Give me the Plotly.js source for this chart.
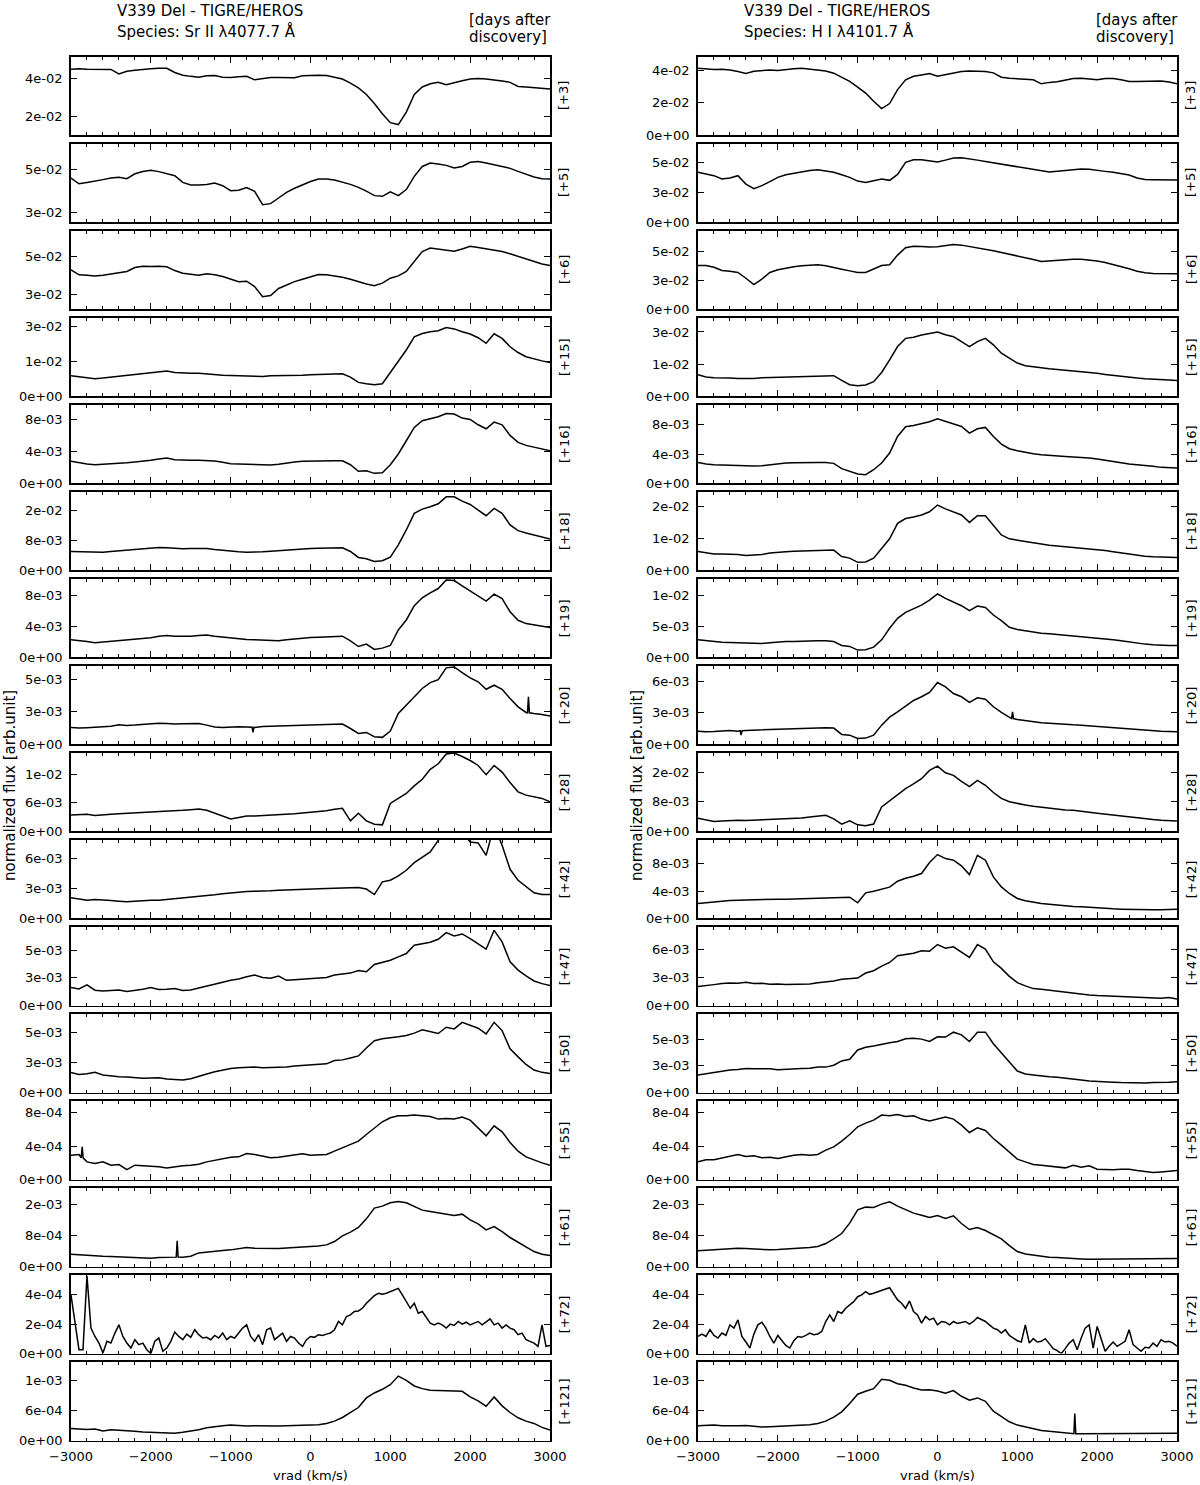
<!DOCTYPE html>
<html>
<head>
<meta charset="utf-8">
<script src="https://cdn.plot.ly/plotly-3.0.1.min.js"></script>
<style>body{margin:0;background:#fff}</style>
</head>
<body>
<div id="chart" style="width:1200px;height:1485px"></div>
<script>
// velocity grids (km/s)
const vrad = [-3000,-2900,-2800,-2700,-2600,-2500,-2400,-2300,-2200,-2100,
  -2000,-1900,-1800,-1700,-1600,-1500,-1400,-1300,-1200,-1100,
  -1000,-900,-800,-700,-600,-500,-400,-300,-200,-100,
  0,100,200,300,400,500,600,700,800,900,
  1000,1100,1200,1300,1400,1500,1600,1700,1800,1900,
  2000,2100,2200,2300,2400,2500,2600,2700,2800,2900,3000];
const vradFine = [-3000,-2950,-2900,-2850,-2800,-2750,-2700,-2650,-2600,-2550,
  -2500,-2450,-2400,-2350,-2300,-2250,-2200,-2150,-2100,-2050,
  -2000,-1950,-1900,-1850,-1800,-1750,-1700,-1650,-1600,-1550,
  -1500,-1450,-1400,-1350,-1300,-1250,-1200,-1150,-1100,-1050,
  -1000,-950,-900,-850,-800,-750,-700,-650,-600,-550,
  -500,-450,-400,-350,-300,-250,-200,-150,-100,-50,
  0,50,100,150,200,250,300,350,400,450,
  500,550,600,650,700,750,800,850,900,950,
  1000,1050,1100,1150,1200,1250,1300,1350,1400,1450,
  1500,1550,1600,1650,1700,1750,1800,1850,1900,1950,
  2000,2050,2100,2150,2200,2250,2300,2350,2400,2450,
  2500,2550,2600,2650,2700,2750,2800,2850,2900,2950,3000];

const days = ["+3","+5","+6","+15","+16","+18","+19","+20","+28","+42","+47","+50","+55","+61","+72","+121"];

// ---- Sr II 4077.7 (left column), flux in units of the tick exponent ----
const sr3 = [4.46,4.48,4.46,4.46,4.43,4.45,4.22,4.36,4.41,4.43,
  4.48,4.51,4.51,4.29,4.15,4.09,4.05,4.12,4.14,4.05,
  4.03,4.07,4.09,3.91,3.98,4.03,4.03,4.03,4.02,4.12,
  4.14,4.15,4.14,4.05,3.95,3.74,3.49,3.15,2.68,2.15,
  1.69,1.59,2.24,3.15,3.54,3.71,3.78,3.66,3.74,3.86,
  3.95,3.98,3.95,3.91,3.85,3.78,3.57,3.54,3.50,3.47,3.44];
const sr5 = [4.58,4.32,4.38,4.46,4.51,4.58,4.62,4.55,4.78,4.89,
  4.94,4.88,4.80,4.69,4.38,4.26,4.26,4.28,4.35,4.23,
  4.00,4.02,4.14,3.97,3.35,3.40,3.66,3.92,4.11,4.28,
  4.42,4.54,4.54,4.49,4.40,4.29,4.15,3.98,3.77,3.74,
  3.95,3.77,4.05,4.66,5.12,5.28,5.23,5.17,5.05,5.12,
  5.31,5.35,5.28,5.20,5.12,5.03,4.89,4.75,4.63,4.55,4.54];
const sr6 = [4.30,4.04,4.02,3.98,4.02,4.09,4.12,4.21,4.42,4.49,
  4.47,4.49,4.46,4.26,4.12,4.05,4.02,4.09,4.04,3.95,
  3.81,3.68,3.70,3.42,2.89,2.95,3.32,3.51,3.68,3.81,
  3.95,4.05,4.04,3.98,3.91,3.81,3.68,3.56,3.47,3.60,
  3.86,3.98,4.21,4.74,5.26,5.44,5.39,5.32,5.28,5.39,
  5.53,5.47,5.39,5.35,5.26,5.14,5.00,4.86,4.74,4.61,4.53];
const sr15 = [0.89,0.84,0.80,0.76,0.79,0.83,0.86,0.89,0.93,0.97,
  1.00,1.06,1.09,1.03,1.00,0.99,1.00,0.96,0.94,0.91,
  0.90,0.89,0.87,0.86,0.86,0.89,0.89,0.89,0.90,0.91,
  0.93,0.94,0.96,0.97,0.97,0.83,0.60,0.54,0.50,0.54,
  1.03,1.50,2.00,2.57,2.71,2.79,2.83,2.97,2.91,2.79,
  2.69,2.53,2.29,2.70,2.50,2.14,1.89,1.71,1.61,1.53,1.46];
const sr16 = [2.75,2.54,2.42,2.33,2.38,2.42,2.50,2.58,2.67,2.75,
  2.88,3.04,3.17,2.96,2.88,2.88,2.88,2.83,2.79,2.63,
  2.46,2.42,2.38,2.29,2.25,2.29,2.38,2.54,2.67,2.75,
  2.79,2.79,2.83,2.83,2.83,2.33,1.50,1.58,1.25,1.33,
  2.33,3.67,5.33,7.00,7.83,8.08,8.33,8.75,8.67,8.17,
  8.00,7.33,6.83,7.67,7.33,6.00,5.13,4.75,4.50,4.29,4.08];
const sr18 = [5.07,4.98,4.89,4.80,4.89,5.07,5.24,5.42,5.69,5.78,
  5.96,6.13,6.04,5.87,5.78,5.87,5.96,5.87,5.60,5.33,
  5.16,4.98,4.89,4.89,4.98,5.16,5.33,5.51,5.69,5.78,
  5.87,5.96,6.04,6.04,6.04,5.07,3.47,3.11,2.40,2.58,
  3.56,6.84,10.84,15.29,16.44,17.07,17.87,19.73,19.73,18.58,
  17.69,16.18,14.67,16.62,15.29,12.18,10.67,10.04,9.51,8.98,8.44];
const sr19 = [2.26,2.17,2.04,1.87,1.96,2.04,2.09,2.17,2.30,2.43,
  2.51,2.72,2.81,2.72,2.68,2.72,2.81,2.89,2.72,2.60,
  2.47,2.38,2.30,2.26,2.21,2.21,2.13,2.26,2.38,2.47,
  2.55,2.60,2.64,2.68,2.72,2.13,1.40,1.70,1.02,1.19,
  1.53,3.53,4.81,6.64,7.66,8.30,8.85,9.95,9.87,9.19,
  8.51,7.91,7.23,8.13,7.57,5.87,4.77,4.34,4.17,4.00,3.83];
const sr20 = [1.30,1.25,1.28,1.33,1.35,1.40,1.51,1.45,1.48,1.53,
  1.56,1.63,1.61,1.56,1.58,1.58,1.61,1.48,1.33,1.30,
  1.33,1.35,1.33,1.30,1.38,1.40,1.43,1.45,1.48,1.48,
  1.51,1.53,1.53,1.56,1.56,1.22,0.84,0.92,0.59,0.54,
  1.02,2.37,3.01,3.65,4.29,4.74,4.97,5.87,5.94,5.51,
  5.10,4.80,4.23,4.54,4.23,3.52,2.88,2.45,2.37,2.30,2.17];
const sr28 = [3.45,3.59,3.59,3.31,3.38,3.59,3.72,3.79,3.86,4.00,
  4.07,4.14,4.21,4.28,4.41,4.55,4.69,4.41,3.79,3.10,
  2.62,2.90,3.24,3.24,3.31,3.38,3.52,3.59,3.72,3.86,
  4.00,4.14,4.34,4.62,4.83,2.21,3.79,2.21,1.52,1.38,
  5.86,6.90,7.93,9.52,10.90,12.97,14.14,16.20,16.40,15.66,
  14.83,13.79,11.86,13.79,12.41,10.21,8.28,7.59,7.24,6.90,6.21];
const sr42 = [2.07,1.93,1.83,1.90,1.87,1.80,1.73,1.67,1.73,1.80,
  1.83,1.83,1.90,2.03,2.07,2.13,2.17,2.27,2.37,2.47,
  2.57,2.67,2.70,2.73,2.73,2.77,2.83,2.87,2.90,2.90,
  2.93,2.97,3.00,3.03,3.07,3.10,3.10,2.95,2.40,3.67,
  3.83,4.27,4.83,5.60,6.17,6.67,7.83,8.83,9.17,8.67,
  7.67,7.57,6.33,9.33,7.33,4.93,3.83,3.17,2.57,2.40,2.40];
const sr47 = [1.62,1.50,1.86,1.38,1.32,1.35,1.41,1.26,1.35,1.47,
  1.62,1.44,1.47,1.53,1.35,1.41,1.59,1.74,1.89,2.10,
  2.28,2.40,2.60,2.75,2.54,2.46,2.66,2.28,2.34,2.40,
  2.40,2.49,2.54,2.75,2.81,2.93,3.17,3.05,3.71,3.89,
  4.10,4.40,4.70,5.45,5.60,5.72,5.99,6.59,6.29,6.47,
  6.05,5.60,5.09,6.80,5.75,3.95,3.20,2.69,2.22,1.98,1.80];
const sr50 = [1.68,1.51,1.57,1.68,1.46,1.37,1.32,1.29,1.24,1.18,
  1.21,1.24,1.13,1.07,1.04,1.15,1.32,1.54,1.73,1.87,
  2.01,2.06,2.12,2.12,2.06,2.06,2.09,2.12,2.20,2.25,
  2.28,2.31,2.39,2.66,2.72,2.88,3.05,3.71,4.31,4.48,
  4.53,4.64,4.75,4.95,5.22,5.08,4.92,5.44,5.30,5.85,
  5.63,5.36,4.89,5.85,5.16,3.65,2.97,2.34,1.87,1.68,1.59];
const sr55 = [2.92,3.00,2.12,1.92,2.12,1.72,1.80,1.20,1.72,1.64,
  1.60,1.52,1.40,1.56,1.64,1.72,1.84,2.12,2.28,2.52,
  2.68,2.72,3.12,3.00,2.84,2.60,2.68,2.84,3.00,3.08,
  2.92,2.92,3.00,3.40,3.80,4.12,4.60,5.40,6.12,6.92,
  7.40,7.64,7.64,7.72,7.64,7.56,7.24,7.32,7.24,7.48,
  7.12,6.12,5.24,6.44,5.72,4.44,3.40,2.72,2.32,2.00,1.72];
const sr61 = [3.20,3.03,2.85,2.77,2.68,2.60,2.51,2.42,2.34,2.16,
  2.16,2.34,2.42,2.51,2.42,2.68,3.55,3.81,3.98,4.15,
  4.33,4.58,4.93,4.76,4.67,4.58,4.67,4.84,4.93,5.02,
  5.10,5.36,5.62,6.49,7.96,8.91,10.12,12.37,15.14,15.66,
  16.52,16.87,16.52,15.48,14.62,14.27,13.93,13.58,13.24,13.58,
  12.11,11.07,9.52,10.38,9.08,7.53,6.31,4.93,3.89,3.20,2.85];
const sr72 = [4.00,2.19,0.27,0.27,5.30,1.74,1.17,0.72,0.05,0.84,
  0.72,1.40,1.96,1.17,0.72,0.38,0.95,0.61,0.72,0.27,
  0.00,0.84,1.06,0.16,0.38,0.84,1.47,1.17,0.95,1.33,
  1.11,1.63,1.29,1.06,1.11,0.95,1.24,1.06,1.40,0.95,
  1.17,1.06,1.40,1.74,1.96,1.17,0.84,1.29,0.61,1.63,
  1.74,0.95,1.17,1.40,0.84,1.17,1.06,0.72,0.50,0.95,
  1.17,1.11,1.29,1.24,1.33,1.40,1.63,2.19,1.96,2.53,
  2.64,2.87,2.91,3.09,3.43,3.66,3.95,4.11,4.04,4.11,
  4.22,4.33,4.45,4.00,3.54,3.09,3.43,2.75,2.87,2.46,
  2.08,1.96,2.08,1.96,1.74,2.01,1.92,2.19,2.01,2.14,
  1.96,2.08,2.19,1.96,2.19,2.37,1.96,2.08,1.74,1.96,
  1.74,1.63,1.29,1.40,0.95,0.84,0.72,0.50,1.96,0.50,0.56];
const sr121 = [2.44,2.31,2.24,2.31,1.91,2.18,2.11,2.04,1.85,1.71,
  1.65,1.65,1.52,1.45,1.65,1.85,2.18,2.57,2.83,2.97,
  3.10,2.97,2.90,2.97,2.90,2.83,2.90,2.97,3.03,3.03,
  3.10,3.16,3.43,3.89,4.61,5.54,6.59,8.50,9.49,10.22,
  11.14,12.85,12.00,10.88,10.35,10.02,9.95,10.02,9.82,9.82,
  8.70,7.91,6.86,8.70,6.92,5.60,4.55,3.89,3.43,2.64,2.11];

// ---- H I 4101.7 (right column) ----
const h3 = [4.14,4.10,4.06,4.08,4.04,3.94,3.82,3.96,4.02,4.04,
  4.00,4.08,4.12,4.14,4.10,4.06,3.98,3.84,3.61,3.33,
  2.98,2.61,2.10,1.65,1.96,2.82,3.43,3.65,3.73,3.82,
  3.65,3.76,3.84,3.94,3.98,3.96,3.94,3.86,3.59,3.53,
  3.49,3.47,3.43,3.18,3.27,3.31,3.43,3.51,3.53,3.49,
  3.43,3.51,3.51,3.43,3.33,3.33,3.35,3.37,3.35,3.29,3.18];
const h5 = [4.17,4.06,3.89,3.61,3.69,3.89,3.19,2.81,3.06,3.39,
  3.75,3.97,4.11,4.22,4.33,4.39,4.31,4.17,3.97,3.75,
  3.44,3.33,3.47,3.61,3.50,4.00,5.00,5.22,5.22,5.11,
  5.03,5.19,5.36,5.39,5.31,5.19,5.08,4.97,4.86,4.72,
  4.61,4.53,4.42,4.28,4.19,4.25,4.33,4.39,4.44,4.42,
  4.36,4.25,4.17,4.06,3.94,3.69,3.58,3.56,3.56,3.56,3.53];
const h6 = [3.81,3.81,3.66,3.37,3.31,3.20,2.70,2.15,2.62,3.20,
  3.43,3.58,3.69,3.78,3.84,3.87,3.78,3.66,3.49,3.34,
  3.20,3.20,3.49,3.81,3.87,4.71,5.35,5.49,5.47,5.41,
  5.44,5.55,5.64,5.58,5.47,5.35,5.23,5.09,4.94,4.80,
  4.65,4.51,4.33,4.16,4.22,4.27,4.33,4.36,4.36,4.30,
  4.19,4.07,3.90,3.72,3.52,3.31,3.17,3.11,3.08,3.08,3.08];
const h15 = [1.00,0.90,0.87,0.87,0.85,0.83,0.82,0.83,0.87,0.88,
  0.90,0.91,0.93,0.94,0.96,0.97,0.97,0.96,0.74,0.54,
  0.49,0.53,0.68,1.11,1.70,2.32,2.70,2.75,2.86,2.94,
  3.00,2.87,2.78,2.55,2.32,2.55,2.70,2.40,2.01,1.78,
  1.55,1.42,1.36,1.33,1.28,1.25,1.21,1.17,1.13,1.10,
  1.07,1.02,0.97,0.94,0.90,0.85,0.82,0.79,0.77,0.76,0.74];
const h16 = [2.86,2.64,2.55,2.50,2.45,2.41,2.36,2.36,2.41,2.55,
  2.73,2.77,2.82,2.86,2.86,2.86,2.86,2.73,2.00,1.64,
  1.27,1.18,1.86,2.77,4.14,6.41,7.73,7.91,8.14,8.41,
  8.82,8.45,8.09,7.77,6.86,7.45,7.64,6.41,5.36,4.73,
  4.45,4.23,4.05,3.91,3.86,3.77,3.68,3.59,3.55,3.45,
  3.32,3.18,3.00,2.82,2.64,2.55,2.45,2.32,2.18,2.14,2.09];
const h18 = [0.59,0.54,0.51,0.51,0.51,0.49,0.46,0.47,0.49,0.54,
  0.57,0.58,0.59,0.60,0.61,0.62,0.63,0.63,0.43,0.38,
  0.25,0.26,0.38,0.67,0.98,1.46,1.61,1.66,1.72,1.82,
  2.03,1.91,1.82,1.72,1.49,1.70,1.70,1.39,1.10,0.98,
  0.93,0.90,0.86,0.81,0.78,0.76,0.74,0.72,0.70,0.68,
  0.65,0.62,0.58,0.54,0.51,0.47,0.44,0.42,0.41,0.40,0.40];
const h19 = [2.82,2.66,2.50,2.45,2.39,2.34,2.29,2.29,2.23,2.34,
  2.50,2.55,2.55,2.61,2.61,2.66,2.66,2.55,1.91,1.76,
  1.17,1.22,1.65,2.82,4.68,6.28,7.23,7.77,8.40,9.20,
  10.21,9.47,8.83,8.30,7.50,8.24,8.03,6.81,5.90,4.84,
  4.47,4.26,4.04,3.88,3.78,3.67,3.51,3.40,3.24,3.14,
  3.09,2.98,2.82,2.66,2.45,2.29,2.13,2.02,1.91,1.91,1.91];
const h20 = [1.26,1.20,1.23,1.29,1.33,1.26,1.33,1.36,1.36,1.39,
  1.42,1.45,1.48,1.52,1.55,1.58,1.58,1.55,0.95,0.88,
  0.57,0.60,0.88,1.83,2.59,3.09,3.66,4.17,4.52,4.93,
  5.87,5.46,4.83,4.52,3.98,4.42,4.29,3.57,3.03,2.56,
  2.37,2.24,2.12,2.05,2.02,1.99,1.93,1.86,1.83,1.77,
  1.67,1.64,1.61,1.55,1.48,1.42,1.36,1.29,1.26,1.23,1.20];
const h28 = [3.56,3.02,2.67,2.84,3.02,3.02,2.93,3.02,3.11,3.20,
  3.29,3.38,3.47,3.64,3.91,4.09,4.36,3.38,1.96,2.84,
  1.78,1.51,2.00,6.58,8.27,10.04,11.56,12.80,14.22,16.44,
  17.60,15.82,15.11,13.51,12.09,13.78,12.44,10.49,8.89,8.00,
  7.47,7.11,6.76,6.49,6.22,5.96,5.78,5.69,5.51,5.16,
  4.89,4.62,4.36,4.09,3.82,3.56,3.38,3.20,3.02,2.93,2.84];
const h42 = [2.20,2.34,2.44,2.54,2.63,2.68,2.73,2.73,2.78,2.78,
  2.83,2.83,2.88,2.93,2.98,3.02,3.07,3.12,3.17,3.12,
  2.30,3.76,4.00,4.34,4.59,5.46,5.90,6.20,6.59,8.20,
  9.37,8.78,8.54,7.71,6.44,9.27,8.54,6.10,4.63,3.66,
  2.93,2.59,2.34,2.20,2.10,1.95,1.85,1.76,1.71,1.61,
  1.51,1.46,1.41,1.37,1.32,1.32,1.32,1.27,1.27,1.27,1.37];
const h47 = [2.04,2.18,2.25,2.36,2.43,2.39,2.50,2.36,2.39,2.29,
  2.32,2.25,2.29,2.32,2.32,2.46,2.54,2.64,2.82,2.89,
  2.96,3.50,3.75,4.25,4.64,5.36,5.50,5.64,5.89,5.86,
  6.57,6.18,6.32,5.79,5.18,6.57,6.07,4.71,4.00,3.14,
  2.46,2.11,1.82,1.75,1.64,1.54,1.43,1.36,1.25,1.14,
  1.07,1.04,1.00,0.96,0.93,0.86,0.89,0.82,0.79,0.86,0.71];
const h50 = [1.64,1.76,1.85,1.98,2.10,2.16,2.25,2.22,2.25,2.22,
  2.13,2.19,2.22,2.25,2.28,2.38,2.38,2.56,2.96,3.12,
  3.98,4.23,4.35,4.54,4.66,4.78,5.03,5.09,5.00,4.78,
  5.22,5.19,5.65,5.40,4.78,5.65,5.65,4.57,3.67,2.87,
  2.01,1.73,1.64,1.54,1.48,1.42,1.36,1.27,1.17,1.08,
  1.02,0.99,0.96,0.93,0.90,0.86,0.90,0.93,0.93,0.96,1.02];
const h55 = [2.12,2.36,2.36,2.60,2.76,3.00,2.76,2.84,2.60,2.68,
  2.52,2.76,2.92,3.00,2.92,3.00,3.52,3.92,4.60,5.40,
  6.32,6.76,7.12,7.72,7.64,7.80,7.56,7.64,7.24,7.00,
  7.24,7.48,7.24,6.52,5.64,6.20,5.88,4.92,4.12,3.32,
  2.44,2.12,1.80,1.72,1.60,1.52,1.40,1.72,1.48,1.64,
  1.24,1.20,1.16,1.24,1.24,1.08,1.00,0.84,0.92,1.00,1.08];
const h61 = [4.07,4.15,4.33,4.50,4.67,4.76,4.67,4.50,4.41,4.33,
  4.41,4.50,4.58,4.76,4.93,5.19,5.97,7.18,8.56,11.25,
  14.71,15.40,15.31,16.18,16.78,15.66,14.71,13.84,13.32,12.72,
  13.24,12.46,13.15,11.16,9.60,10.12,9.34,8.22,7.18,5.45,
  3.89,3.29,2.94,2.68,2.42,2.34,2.16,1.99,1.99,1.90,
  1.90,1.99,1.90,1.99,1.99,1.99,1.90,1.99,1.90,1.99,2.08];
const h72 = [1.17,1.33,1.17,1.63,1.24,1.06,1.40,1.24,1.96,1.74,
  2.30,1.17,0.79,0.38,1.33,1.96,2.14,1.74,1.17,0.72,
  1.24,0.88,0.56,0.38,0.88,1.17,1.11,1.24,1.40,1.29,
  1.33,1.51,2.19,2.64,2.19,2.87,2.75,3.09,3.32,3.54,
  3.88,4.00,4.22,4.04,4.11,4.22,4.33,4.40,4.49,4.04,
  3.66,3.43,3.09,3.59,2.87,2.64,2.08,2.53,2.30,2.42,
  1.96,2.19,2.14,1.96,2.19,2.05,2.14,2.19,2.01,2.19,
  2.46,2.30,2.19,1.96,1.74,1.63,1.40,1.63,1.24,1.06,
  0.88,0.79,1.96,0.72,1.02,0.79,0.84,1.02,0.65,0.34,
  0.20,0.00,0.34,0.72,0.95,0.27,1.06,1.74,1.96,0.38,
  1.85,1.06,0.16,0.50,0.79,0.50,0.65,0.84,1.63,0.61,
  0.38,0.16,0.43,0.38,0.72,0.50,0.95,0.79,0.84,0.72,0.50];
const h121 = [2.97,3.03,3.10,2.97,2.90,2.97,3.03,2.83,2.70,2.77,
  2.83,2.90,2.90,3.03,3.16,3.43,3.89,4.68,5.74,7.38,
  9.23,9.82,10.35,12.20,12.00,11.34,11.01,10.48,10.09,10.15,
  9.89,9.43,9.95,8.83,8.04,8.50,7.84,5.87,4.75,3.76,
  3.10,2.77,2.31,2.04,1.85,1.65,1.45,1.38,1.38,1.38,
  1.45,1.45,1.38,1.45,1.52,1.45,1.52,1.45,1.52,1.52,1.45];

// narrow spikes: [vrad, level beside the spike, spike tip]
const srSpikes = {7: [[-720, 1.32, 0.92], [2730, 2.42, 3.65]], 12: [[-2860, 2.6, 3.92]], 13: [[-1670, 2.45, 6.66]]};
const hSpikes = {7: [[-2460, 1.30, 0.88], [940, 2.45, 3.09]], 15: [[1720, 1.38, 5.41]]};

const srFlux = [sr3, sr5, sr6, sr15, sr16, sr18, sr19, sr20, sr28, sr42, sr47, sr50, sr55, sr61, sr72, sr121];
const hFlux = [h3, h5, h6, h15, h16, h18, h19, h20, h28, h42, h47, h50, h55, h61, h72, h121];

const srRange = [[1.04,5.11],[2.54,6.17],[2.23,6.35],[0,3.39],[0,9.83],[0,21.07],[0,10.09],[0,6.02],
  [0,16.41],[0,7.87],[0,7.10],[0,6.54],[0,9.4],[0,20.33],[0,5.35],[0,15.62]];
const srTicks = [[2,4],[3,5],[3,5],[0,1.5,3],[0,4,8],[0,8,16],[0,4,8],[0,2.5,5],
  [0,6,12],[0,3,6],[0,2.5,5],[0,2.5,5],[0,4,8],[0,8,16],[0,2,4],[0,6,12]];
const srTickText = [["2e-02","4e-02"],["3e-02","5e-02"],["3e-02","5e-02"],["0e+00","1e-02","3e-02"],
  ["0e+00","4e-03","8e-03"],["0e+00","8e-03","2e-02"],["0e+00","4e-03","8e-03"],["0e+00","3e-03","5e-03"],
  ["0e+00","6e-03","1e-02"],["0e+00","3e-03","6e-03"],["0e+00","3e-03","5e-03"],["0e+00","3e-03","5e-03"],
  ["0e+00","4e-04","8e-04"],["0e+00","8e-04","2e-03"],["0e+00","2e-04","4e-04"],["0e+00","6e-04","1e-03"]];

const hRange = [[0,4.86],[0,6.56],[0,6.83],[0,3.66],[0,10.73],[0,2.44],[0,12.61],[0,7.45],
  [0,21.16],[0,11.51],[0,8.46],[0,7.35],[0,9.4],[0,20.33],[0,5.35],[0,15.62]];
const hTicks = [[0,2,4],[0,2.5,5],[0,2.5,5],[0,1.5,3],[0,4,8],[0,1,2],[0,5,10],[0,3,6],
  [0,8,16],[0,4,8],[0,3,6],[0,2.5,5],[0,4,8],[0,8,16],[0,2,4],[0,6,12]];
const hTickText = [["0e+00","2e-02","4e-02"],["0e+00","3e-02","5e-02"],["0e+00","3e-02","5e-02"],["0e+00","1e-02","3e-02"],
  ["0e+00","4e-03","8e-03"],["0e+00","1e-02","2e-02"],["0e+00","5e-03","1e-02"],["0e+00","3e-03","6e-03"],
  ["0e+00","8e-03","2e-02"],["0e+00","4e-03","8e-03"],["0e+00","3e-03","6e-03"],["0e+00","3e-03","5e-03"],
  ["0e+00","4e-04","8e-04"],["0e+00","8e-04","2e-03"],["0e+00","2e-04","4e-04"],["0e+00","6e-04","1e-03"]];

const columns = [
  {flux: srFlux, range: srRange, ticks: srTicks, text: srTickText, spikes: srSpikes,
   title: "V339 Del - TIGRE/HEROS", species: "Species: Sr II \u03bb4077.7 \u00c5"},
  {flux: hFlux, range: hRange, ticks: hTicks, text: hTickText, spikes: hSpikes,
   title: "V339 Del - TIGRE/HEROS", species: "Species: H I \u03bb4101.7 \u00c5"}
];

// page geometry (pixels)
const W = 1200, H = 1485;
const colLeft = [71, 698], colRight = [550, 1177];
const top0 = 56.7, rowStep = 87.03, panelH = 78.5;
const FONT = "DejaVu Sans";

function withSpikes(xs, ys, spikes) {
  const pts = xs.map((v, i) => [v, ys[i]]);
  (spikes || []).forEach(([v, base, tip]) => {
    pts.push([v - 12, base], [v, tip], [v + 12, base]);
  });
  pts.sort((a, b) => a[0] - b[0]);
  return {x: pts.map(p => p[0]), y: pts.map(p => p[1])};
}

const data = [];
const layout = {
  width: W, height: H,
  margin: {l: 0, r: 0, t: 0, b: 0},
  paper_bgcolor: "#fff", plot_bgcolor: "#fff",
  showlegend: false,
  font: {family: FONT, color: "#000", size: 13},
  annotations: []
};

let n = 0;
columns.forEach((col, c) => {
  const x0 = colLeft[c] / W, x1 = colRight[c] / W;
  for (let r = 0; r < 16; r++) {
    n++;
    const sfx = n === 1 ? "" : String(n);
    const topPx = top0 + r * rowStep, botPx = topPx + panelH;
    const yd = [1 - botPx / H, 1 - topPx / H];
    const flux = col.flux[r];
    const xs = flux.length === vradFine.length ? vradFine : vrad;
    const s = withSpikes(xs, flux, col.spikes[r]);

    data.push({
      x: s.x, y: s.y, type: "scatter", mode: "lines",
      line: {color: "#000", width: 1.5},
      xaxis: "x" + sfx, yaxis: "y" + sfx, hoverinfo: "skip"
    });

    layout["xaxis" + sfx] = {
      domain: [x0, x1], anchor: "y" + sfx, range: [-3000, 3000],
      showline: true, linecolor: "#000", linewidth: 1.8, mirror: "allticks",
      ticks: "inside", ticklen: 6, tickwidth: 1, tickcolor: "#000",
      tick0: -3000, dtick: 1000,
      minor: {tick0: -3000, dtick: 200, ticks: "inside", ticklen: 3, tickwidth: 1, tickcolor: "#000", showgrid: false},
      showgrid: false, zeroline: false,
      showticklabels: r === 15, tickfont: {family: FONT, size: 13, color: "#000"},
      ticklabelstandoff: 3
    };
    layout["yaxis" + sfx] = {
      domain: yd, anchor: "x" + sfx, range: col.range[r],
      showline: true, linecolor: "#000", linewidth: 1.8, mirror: "allticks",
      ticks: "inside", ticklen: 6, tickwidth: 1, tickcolor: "#000",
      tickmode: "array", tickvals: col.ticks[r], ticktext: col.text[r],
      showgrid: false, zeroline: false,
      tickfont: {family: FONT, size: 13, color: "#000"},
      ticklabelstandoff: 4
    };

    // day label on the right of the panel
    layout.annotations.push({
      xref: "paper", yref: "paper", showarrow: false,
      x: (colRight[c] + 14) / W, y: 1 - (topPx + panelH / 2) / H,
      xanchor: "center", yanchor: "middle", textangle: -90,
      text: "[" + days[r] + "]", font: {family: FONT, size: 13}
    });
  }

  // headers
  const head = [
    [col.title, colLeft[c] + 44, 11.5],
    [col.species, colLeft[c] + 44, 31.5],
    ["[days after", colRight[c] - 83, 20],
    ["discovery]", colRight[c] - 83, 36.5]
  ];
  head.forEach(([t, px, py]) => {
    layout.annotations.push({
      xref: "paper", yref: "paper", showarrow: false,
      x: px / W, y: 1 - py / H, xanchor: "left", yanchor: "middle",
      text: t, font: {family: FONT, size: 15}
    });
  });

  // axis titles
  layout.annotations.push({
    xref: "paper", yref: "paper", showarrow: false,
    x: (colLeft[c] + colRight[c]) / 2 / W, y: 1 - 1475 / H,
    xanchor: "center", yanchor: "middle",
    text: "vrad (km/s)", font: {family: FONT, size: 13}
  });
  layout.annotations.push({
    xref: "paper", yref: "paper", showarrow: false,
    x: (colLeft[c] - 61) / W, y: 1 - 786 / H,
    xanchor: "center", yanchor: "middle", textangle: -90,
    text: "normalized flux [arb.unit]", font: {family: FONT, size: 15}
  });
});

Plotly.newPlot("chart", data, layout, {displayModeBar: false, staticPlot: true});
</script>
</body>
</html>
